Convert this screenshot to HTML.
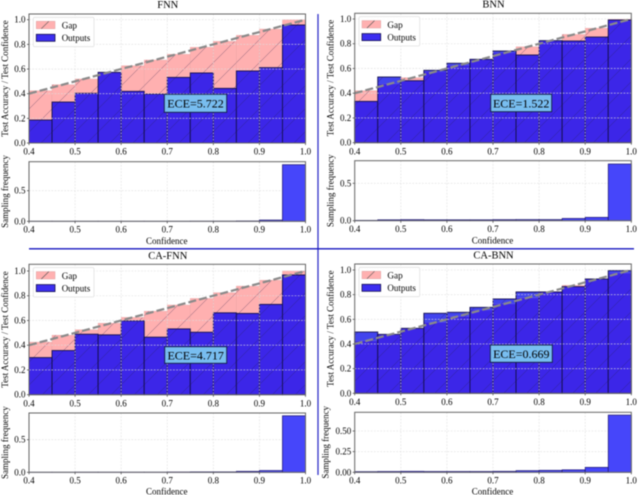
<!DOCTYPE html>
<html>
<head>
<meta charset="utf-8">
<style>
html,body{margin:0;padding:0;background:#fff;width:640px;height:495px;overflow:hidden}
svg{display:block;position:absolute;left:0;top:0;filter:blur(0.5px)}
text{font-family:"Liberation Serif",serif;fill:#000}
</style>
</head>
<body>
<svg id="chart" xmlns="http://www.w3.org/2000/svg" width="640" height="495" viewBox="0 0 640 495">
<defs>
<pattern id="hatch" patternUnits="userSpaceOnUse" width="23" height="23">
<path d="M-2 2L2 -2M0 23L23 0M21 25L25 21" stroke="#2a2050" stroke-opacity="0.6" stroke-width="0.5" fill="none"/>
</pattern>
</defs>
<line x1="318" y1="14" x2="318" y2="475" stroke="#3030c8" stroke-width="1.3"/>
<line x1="29" y1="248.8" x2="634" y2="248.8" stroke="#1818c0" stroke-width="1.4"/>
</svg>
<script>
const binStarts = [0.4, 0.45, 0.5, 0.55, 0.6, 0.65, 0.7, 0.75, 0.8, 0.85, 0.9, 0.95];
const xTickValues = [0.4, 0.5, 0.6, 0.7, 0.8, 0.9, 1.0];
const xTickLabels = ['0.4', '0.5', '0.6', '0.7', '0.8', '0.9', '1.0'];
const accTickValues = [0, 0.2, 0.4, 0.6, 0.8, 1.0];
const accTickLabels = ['0.0', '0.2', '0.4', '0.6', '0.8', '1.0'];
const freqTickValues = [0, 0.5];
const freqTickLabels = ['0.0', '0.5'];
const caBnnFreqTickValues = [0, 0.25, 0.5];
const caBnnFreqTickLabels = ['0.00', '0.25', '0.50'];

const fnnAccuracy = [0.186, 0.332, 0.403, 0.573, 0.419, 0.397, 0.532, 0.568, 0.443, 0.584, 0.611, 0.957];
const fnnGapTop = [0.424, 0.473, 0.519, 0.575, 0.627, 0.673, 0.719, 0.776, 0.824, 0.873, 0.924, 1.0];
const fnnSampling = [0.001, 0.001, 0.001, 0.001, 0.001, 0.001, 0.001, 0.002, 0.002, 0.005, 0.02, 0.925];
const bnnAccuracy = [0.334, 0.531, 0.501, 0.585, 0.642, 0.674, 0.741, 0.709, 0.825, 0.822, 0.854, 0.992];
const bnnGapTop = [0.42, 0.475, 0.525, 0.575, 0.625, 0.675, 0.725, 0.775, 0.825, 0.875, 0.925, 0.998];
const bnnSampling = [0.005, 0.012, 0.014, 0.012, 0.012, 0.012, 0.014, 0.015, 0.015, 0.03, 0.045, 0.758];
const caFnnAccuracy = [0.30, 0.357, 0.489, 0.484, 0.597, 0.465, 0.532, 0.505, 0.662, 0.657, 0.73, 0.968];
const caFnnGapTop = [0.425, 0.481, 0.525, 0.578, 0.625, 0.675, 0.725, 0.778, 0.825, 0.878, 0.925, 1.0];
const caFnnSampling = [0.001, 0.001, 0.002, 0.002, 0.002, 0.002, 0.004, 0.007, 0.007, 0.015, 0.027, 0.867];
const caBnnAccuracy = [0.497, 0.478, 0.527, 0.649, 0.657, 0.697, 0.765, 0.822, 0.822, 0.865, 0.927, 0.995];
const caBnnGapTop = [0.425, 0.475, 0.525, 0.575, 0.625, 0.675, 0.725, 0.775, 0.825, 0.875, 0.925, 0.975];
const caBnnSampling = [0.008, 0.01, 0.012, 0.01, 0.01, 0.01, 0.012, 0.02, 0.024, 0.03, 0.06, 0.693];

const NS = 'http://www.w3.org/2000/svg';
const svg = document.getElementById('chart');

function mk(parent, tag, attrs, txt) {
  const el = document.createElementNS(NS, tag);
  for (const k in attrs) el.setAttribute(k, attrs[k]);
  if (txt !== undefined) el.textContent = txt;
  parent.appendChild(el);
  return el;
}

function linearScale(d0, d1, r0, r1) {
  return v => r0 + (v - d0) / (d1 - d0) * (r1 - r0);
}

function label(parent, name, x, y, str, size, anchor, rot) {
  const attrs = {x: x, y: y, 'font-size': size, 'text-anchor': anchor || 'middle', 'dominant-baseline': 'central'};
  if (rot) attrs.transform = 'rotate(-90 ' + x + ' ' + y + ')';
  const t = mk(parent, 'text', attrs, str);
  
  
  return t;
}

function frameAndTicks(g, L, R, T, B, sx, sy, yVals, yLabs, xLabelY) {
  xTickValues.forEach((v, i) => {
    const tick = mk(g, 'line', {x1: sx(v), x2: sx(v), y1: B, y2: B + 2, stroke: '#333', 'stroke-width': 0.7});
    
    
    label(g, 'x-tick-label', sx(v), xLabelY, xTickLabels[i], 9);
  });
  yVals.forEach((v, i) => {
    const tick = mk(g, 'line', {x1: L - 2, x2: L, y1: sy(v), y2: sy(v), stroke: '#333', 'stroke-width': 0.7});
    
    
    label(g, 'y-tick-label', L - 3.5, sy(v), yLabs[i], 9, 'end');
  });
  const frame = mk(g, 'rect', {x: L, y: T, width: R - L, height: B - T, fill: 'none', stroke: '#666', 'stroke-width': 1});
  
  
}

function grid(g, L, R, T, B, sx, sy, yVals) {
  xTickValues.slice(1, -1).forEach(v => {
    const l = mk(g, 'line', {x1: sx(v), x2: sx(v), y1: T, y2: B, stroke: '#dedede', 'stroke-width': 0.6, 'stroke-dasharray': '1.8 1.4'});
    
    
  });
  yVals.slice(1).forEach(v => {
    const l = mk(g, 'line', {x1: L, x2: R, y1: sy(v), y2: sy(v), stroke: '#dedede', 'stroke-width': 0.6, 'stroke-dasharray': '1.8 1.4'});
    
    
  });
}

function reliability(p, accuracy, gapTop) {
  const g = mk(svg, 'g', {});
  
  
  const sx = linearScale(0.4, 1.0, p.L, p.R);
  const sy = linearScale(0, 1.0, p.B, p.y1);
  const w = sx(0.45) - sx(0.4);

  binStarts.forEach((b, i) => {
    const top = Math.max(accuracy[i], gapTop[i]);
    const bot = Math.min(accuracy[i], gapTop[i]);
    const over = accuracy[i] > gapTop[i];
    const gap = mk(g, 'rect', {x: sx(b), y: sy(top), width: w, height: sy(bot) - sy(top), fill: over ? '#4244ee' : '#ffb0b0', stroke: over ? 'none' : '#e8a4a4', 'stroke-width': 0.4});
    
    
    const ho = mk(g, 'rect', {x: sx(b), y: sy(top), width: w, height: sy(bot) - sy(top), fill: 'url(#hatch)'});
    
    
  });
  binStarts.forEach((b, i) => {
    const y = sy(Math.min(accuracy[i], gapTop[i]));
    const yA = sy(accuracy[i]);
    const fillTop = accuracy[i] > gapTop[i] ? y : yA;
    const bar = mk(g, 'rect', {x: sx(b), y: fillTop, width: w, height: p.B - fillTop, fill: '#3c26e8'});
    
    
    const hb = mk(g, 'rect', {x: sx(b), y: fillTop, width: w, height: p.B - fillTop, fill: 'url(#hatch)'});
    
    
    const edge = mk(g, 'rect', {x: sx(b), y: yA, width: w, height: p.B - yA, fill: 'none', stroke: '#14104e', 'stroke-width': 0.9});
    
    
  });
  grid(g, p.L, p.R, p.T, p.B, sx, sy, accTickValues);

  const diag = mk(g, 'line', {x1: sx(0.4), y1: sy(0.4), x2: sx(1.0), y2: sy(1.0), stroke: '#8a8a8a', 'stroke-width': 2.2, 'stroke-dasharray': '8 3'});
  
  

  frameAndTicks(g, p.L, p.R, p.T, p.B, sx, sy, accTickValues, accTickLabels, p.B + 8.7);

  label(g, 'panel-title', (p.L + p.R) / 2 + 0.5, p.titleY, p.title, 10.5);
  label(g, 'y-axis-title', p.yLabX, (p.T + p.B) / 2, 'Test Accuracy / Test Confidence', 9, 'middle', true);

  const lx = p.L + 4.3, ly = p.T + 3.3;
  const leg = mk(g, 'g', {});
  
  
  const lb = mk(leg, 'rect', {x: lx, y: ly, width: 60.7, height: 29.4, rx: 1.5, fill: '#fff', 'fill-opacity': 0.9, stroke: '#e2e2e2', 'stroke-width': 0.8});
  
  
  const s1 = mk(leg, 'rect', {x: lx + 3, y: ly + 4, width: 18.7, height: 7.4, fill: '#ffb0b0', stroke: '#e0a0a0', 'stroke-width': 0.5});
  
  
  const s1h = mk(leg, 'line', {x1: lx + 8, y1: ly + 11.4, x2: lx + 15.5, y2: ly + 4, stroke: '#555', 'stroke-width': 0.6});
  
  
  const s2 = mk(leg, 'rect', {x: lx + 3, y: ly + 17, width: 18.7, height: 7, fill: '#3c2ef0', stroke: '#14104e', 'stroke-width': 0.8});
  
  
  label(leg, 'legend-label-gap', lx + 28.4, ly + 8.2, 'Gap', 9.2, 'start');
  label(leg, 'legend-label-outputs', lx + 28.4, ly + 20.7, 'Outputs', 9, 'start');

  const ece = mk(g, 'rect', {x: p.eX0, y: p.eY0, width: p.eX1 - p.eX0, height: p.eY1 - p.eY0, fill: '#78bdf0', stroke: '#102040', 'stroke-width': 0.9});
  
  
  label(g, 'ece-value', (p.eX0 + p.eX1) / 2, (p.eY0 + p.eY1) / 2 + 0.3, p.ece, 12);
}

function sampling(p, freq, vals, labs) {
  const g = mk(svg, 'g', {});
  
  
  const sx = linearScale(0.4, 1.0, p.L, p.R);
  const sy = linearScale(0, p.refVal, p.B, p.refY);
  const w = sx(0.45) - sx(0.4);
  grid(g, p.L, p.R, p.T, p.B, sx, sy, vals);
  binStarts.forEach((b, i) => {
    const y = sy(freq[i]);
    const bar = mk(g, 'rect', {x: sx(b), y: y, width: w, height: p.B - y, fill: '#4646fa', stroke: '#1c1470', 'stroke-width': 0.7});
    
    
  });
  frameAndTicks(g, p.L, p.R, p.T, p.B, sx, sy, vals, labs, p.B + 8.3);
  label(g, 'y-axis-title', p.yLabX, (p.T + p.B) / 2, 'Sampling frequency', 9, 'middle', true);
  label(g, 'x-axis-title', (p.L + p.R) / 2 - 0.5, p.xLabY, 'Confidence', 9);
}

const LL = 29, LR = 305.5, RL = 354.7, RR = 631.3;

reliability({name: 'fnn', title: 'FNN', L: LL, R: LR, T: 14, B: 143, y1: 19.7, titleY: 5.7, yLabX: 4.8, ece: 'ECE=5.722', eX0: 164.3, eX1: 226.7, eY0: 94.3, eY1: 112.3}, fnnAccuracy, fnnGapTop);
reliability({name: 'bnn', title: 'BNN', L: RL, R: RR, T: 13.3, B: 142.7, y1: 19, titleY: 5, yLabX: 330.7, ece: 'ECE=1.522', eX0: 490.7, eX1: 551.7, eY0: 94.3, eY1: 111.7}, bnnAccuracy, bnnGapTop);
reliability({name: 'ca-fnn', title: 'CA-FNN', L: LL, R: LR, T: 264.3, B: 394.7, y1: 271, titleY: 256.7, yLabX: 4.8, ece: 'ECE=4.717', eX0: 164.7, eX1: 226.7, eY0: 346.7, eY1: 363.3}, caFnnAccuracy, caFnnGapTop);
reliability({name: 'ca-bnn', title: 'CA-BNN', L: RL, R: RR, T: 264, B: 393.3, y1: 270, titleY: 256, yLabX: 330.7, ece: 'ECE=0.669', eX0: 490.3, eX1: 552.3, eY0: 345, eY1: 362.3}, caBnnAccuracy, caBnnGapTop);

sampling({name: 'fnn', L: LL, R: LR, T: 161.7, B: 221.3, refVal: 0.5, refY: 190.7, yLabX: 5, xLabY: 241}, fnnSampling, freqTickValues, freqTickLabels);
sampling({name: 'bnn', L: RL, R: RR, T: 160.7, B: 220.7, refVal: 0.5, refY: 183.3, yLabX: 330.5, xLabY: 240.5}, bnnSampling, freqTickValues, freqTickLabels);
sampling({name: 'ca-fnn', L: LL, R: LR, T: 413, B: 472.3, refVal: 0.5, refY: 439.7, yLabX: 5, xLabY: 491.7}, caFnnSampling, freqTickValues, freqTickLabels);
sampling({name: 'ca-bnn', L: RL, R: RR, T: 412.3, B: 472.3, refVal: 0.5, refY: 431, yLabX: 325.7, xLabY: 491.7}, caBnnSampling, caBnnFreqTickValues, caBnnFreqTickLabels);
</script>
</body>
</html>
